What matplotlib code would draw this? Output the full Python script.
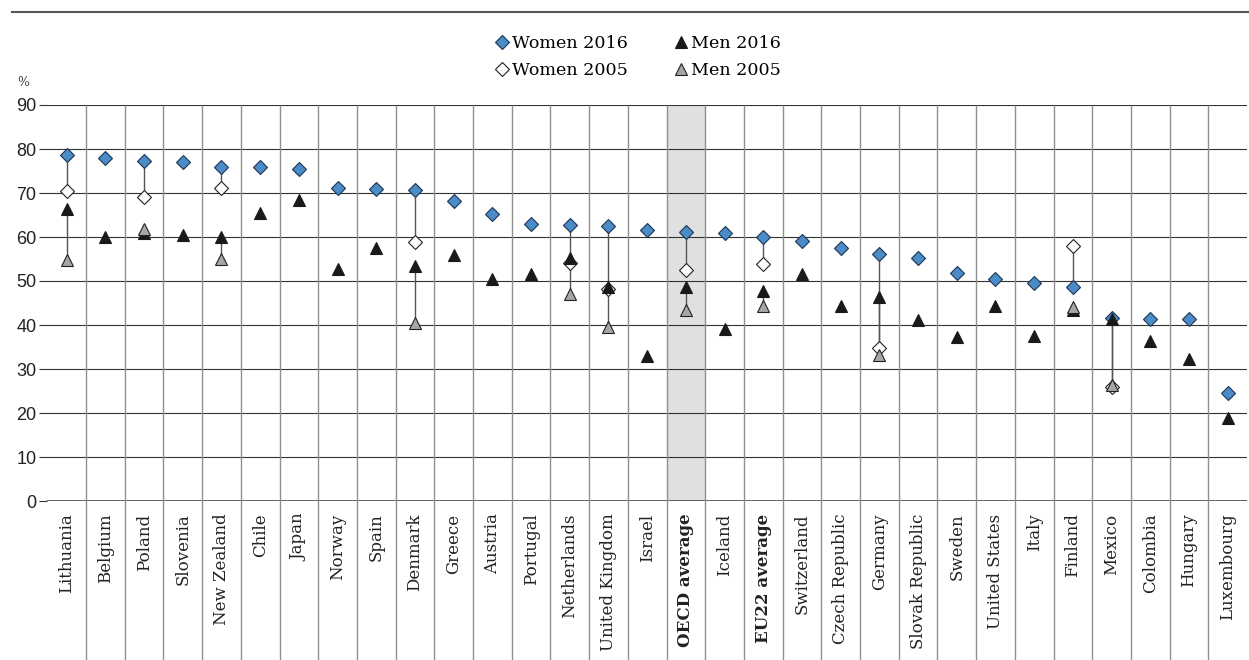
import matplotlib.pyplot as plt
from matplotlib.lines import Line2D
import numpy as np

countries = ["Lithuania", "Belgium", "Poland", "Slovenia", "New Zealand", "Chile", "Japan",
             "Norway", "Spain", "Denmark", "Greece", "Austria", "Portugal", "Netherlands",
             "United Kingdom", "Israel", "OECD average", "Iceland", "EU22 average",
             "Switzerland", "Czech Republic", "Germany", "Slovak Republic", "Sweden",
             "United States", "Italy", "Finland", "Mexico", "Colombia", "Hungary", "Luxembourg"]

women_2016 = [78.6, 78.0, 77.3, 77.0, 76.0, 76.0, 75.4, 71.1, 70.9, 70.6, 68.1, 65.2, 63.0,
              62.7, 62.4, 61.5, 61.2, 60.8, 60.1, 59.0, 57.6, 56.2, 55.3, 51.9, 50.4, 49.6,
              48.6, 41.6, 41.4, 41.4, 24.5]
men_2016 = [66.3, 59.9, 60.9, 60.5, 60.1, 65.5, 68.4, 52.7, 57.4, 53.3, 55.9, 50.5, 51.6,
            55.3, 48.6, 33.0, 48.6, 39.0, 47.7, 51.7, 44.3, 46.4, 41.1, 37.2, 44.4, 37.5,
            43.4, 41.4, 36.4, 32.2, 18.9]
# None where no 2005 value is shown
women_2005 = [70.4, None, 69.0, None, 71.1, None, None, None, None, 58.9, None, None, None,
              54.2, 48.1, None, 52.5, None, 53.9, None, None, 34.8, None, None, None, None,
              58.0, 26.0, None, None, None]
men_2005 = [54.7, None, 61.8, None, 55.1, None, None, None, None, 40.4, None, None, None,
            47.0, 39.5, None, 43.5, None, 44.3, None, None, 33.1, None, None, None, None,
            44.2, 26.4, None, None, None]

bold_labels = ["OECD average", "EU22 average"]
highlight = "OECD average"

BLUE = "#4a8bc8"
SERIF = "DejaVu Serif"

W, H = 1249, 660
fig = plt.figure(figsize=(W / 100, H / 100), dpi=100)
left, right, top, bottom = 47.3, 1247, 105, 501
ax = fig.add_axes([left / W, 1 - bottom / H, (right - left) / W, (bottom - top) / H])

x = np.arange(len(countries))
ax.set_xlim(-0.5, len(countries) - 0.5)
ax.set_ylim(0, 90)

# highlighted column
hi = countries.index(highlight)
ax.axvspan(hi - 0.5, hi + 0.5, color="#e0e0e0", zorder=0, lw=0)

# horizontal gridlines
for yv in range(0, 91, 10):
    ax.axhline(yv, color="#555555" if yv == 0 else "#333333",
               lw=1.3 if yv == 0 else 0.8, zorder=1)

# vertical separators extending below the axis
ax.vlines(x[:-1] + 0.5, -159 / 396, 1, transform=ax.get_xaxis_transform(),
          colors="#8f8f8f", lw=1.0, clip_on=False, zorder=1)

# connectors 2016 -> 2005
for i in range(len(countries)):
    if women_2005[i] is not None:
        ax.plot([i, i], [women_2016[i], women_2005[i]], color="#555555", lw=1.0, zorder=2)
    if men_2005[i] is not None:
        ax.plot([i, i], [men_2016[i], men_2005[i]], color="#555555", lw=1.0, zorder=2)

w05 = np.array([np.nan if v is None else v for v in women_2005])
m05 = np.array([np.nan if v is None else v for v in men_2005])

ax.plot(x, w05, ls="none", marker="D", ms=7, mfc="white", mec="#222222", mew=0.8, zorder=3)
ax.plot(x, women_2016, ls="none", marker="D", ms=7, mfc=BLUE, mec="#1e3550", mew=0.8, zorder=4)
ax.plot(x, men_2016, ls="none", marker="^", ms=9, mfc="#1a1a1a", mec="#1a1a1a", mew=0.8, zorder=5)
ax.plot(x, m05, ls="none", marker="^", ms=9, mfc="#a6a6a6", mec="#222222", mew=0.8, zorder=6)

for s in ax.spines.values():
    s.set_visible(False)

ax.set_yticks(range(0, 91, 10))
ax.tick_params(axis="y", length=5.8, width=0.8, color="#333333", pad=2,
               labelsize=13, labelcolor="#222222")
for lab in ax.get_yticklabels():
    lab.set_fontfamily("Liberation Sans")

ax.set_xticks(x)
ax.set_xticklabels(countries, rotation=90, va="top", ha="center",
                   fontsize=12, family=SERIF, color="#222222")
ax.tick_params(axis="x", length=0, pad=9)
for lab in ax.get_xticklabels():
    if lab.get_text() in bold_labels:
        lab.set_fontweight("bold")

fig.text(23 / W, 1 - 82 / H, "%", fontsize=9, family=SERIF, color="#444444",
         ha="center", va="center")

# top rule
fig.add_artist(Line2D([12 / W, 1], [1 - 12 / H, 1 - 12 / H], color="#555555", lw=1.5))

handles = [
    Line2D([], [], ls="none", marker="D", ms=7, mfc=BLUE, mec="#1e3550", mew=0.8),
    Line2D([], [], ls="none", marker="D", ms=7, mfc="white", mec="#222222", mew=0.8),
    Line2D([], [], ls="none", marker="^", ms=9, mfc="#1a1a1a", mec="#1a1a1a", mew=0.8),
    Line2D([], [], ls="none", marker="^", ms=9, mfc="#a6a6a6", mec="#222222", mew=0.8),
]
labels = ["Women 2016", "Women 2005", "Men 2016", "Men 2005"]
fig.legend(handles, labels, ncol=2, loc="center", bbox_to_anchor=(638 / W, 1 - 57 / H),
           frameon=False, prop={"family": SERIF, "size": 12.6}, handlelength=0.8,
           handletextpad=0.2, columnspacing=2.6, labelspacing=0.6, borderpad=0)

fig.savefig("out.png", dpi=100)
